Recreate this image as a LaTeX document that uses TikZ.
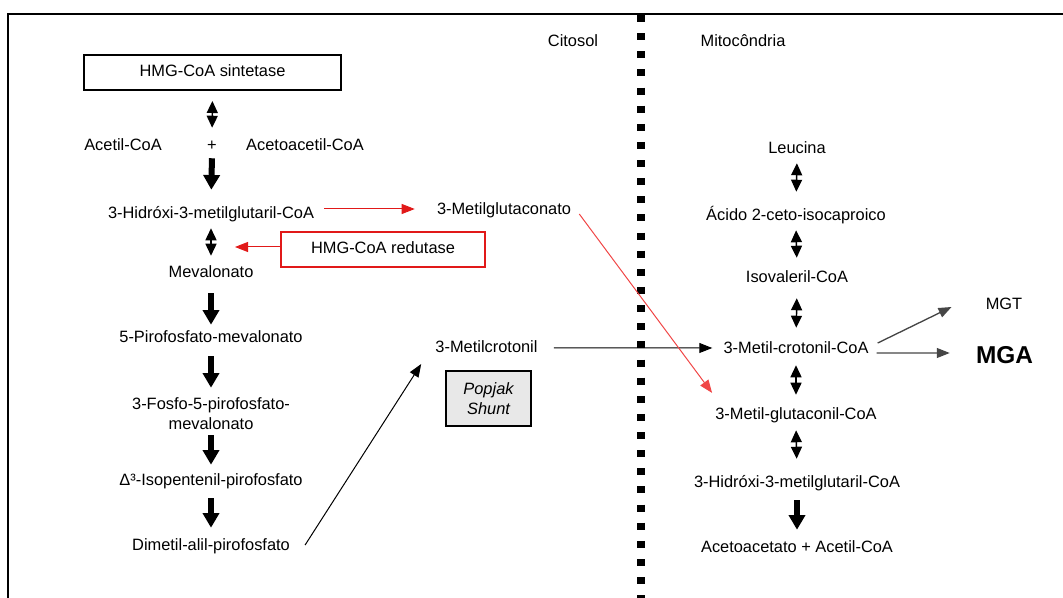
\documentclass[tikz,border=0pt]{standalone}
\usepackage{fontspec}
\setmainfont{Liberation Sans}
\usetikzlibrary{arrows.meta,calc}
\definecolor{mred}{RGB}{225,25,25}
\definecolor{lred}{RGB}{240,70,70}
\definecolor{dgray}{RGB}{70,70,70}
\begin{document}
\begin{tikzpicture}[x=0.75pt,y=-0.75pt,
  every node/.style={font=\fontsize{12.3}{15}\selectfont},
  lbl/.style={inner sep=0pt, text height=8.8pt, text depth=2.6pt},
  box/.style={draw, line width=1.5pt, inner sep=0pt, minimum height=26.25pt, text height=8.8pt, text depth=2.6pt},
  dbl/.style={line width=1.1pt, {Triangle[width=8.25pt,length=9pt]}-{Triangle[width=8.25pt,length=9pt]}},
  thick/.style={line width=4.5pt, -{Triangle[width=12pt,length=11pt]}},
  thin/.style={line width=0.75pt, -{Triangle[width=7.5pt,length=9.75pt]}},
  sh/.style 2 args={shorten <=#1, shorten >=#2},
]
\useasboundingbox (0,0) rectangle (1063,598);
% frame
\draw[line width=1.5pt] (1063,14) -- (7.7,14) -- (7.7,598);
% membrane divider
\draw[line width=6pt, dash pattern=on 5.25pt off 8.35pt] (641,15) -- (641,598);

% compartment labels
\node[lbl] (citosol) at (573,42.8) {Citosol};
\node[lbl] (mito) at (743,42.8) {Mitocôndria};

% left column
\node[box, minimum width=192.75pt] (sint) at (212.5,72.5) {HMG-CoA sintetase};
\node[lbl] (acetil) at (123,146.8) {Acetil-CoA};
\node[lbl] (plus) at (212,146.8) {+};
\node[lbl] (acac) at (305,146.8) {Acetoacetil-CoA};
\node[lbl] (hmgL) at (211,214.8) {3-Hidróxi-3-metilglutaril-CoA};
\node[lbl] (meva) at (211,273.8) {Mevalonato};
\node[lbl] (pirofos) at (211,338.8) {5-Pirofosfato-mevalonato};
\node[lbl, align=center, text height=23.8pt] (fosfo) at (211,415.8) {3-Fosfo-5-pirofosfato-\\mevalonato};
\node[lbl] (ipp) at (211,481.8) {Δ³-Isopentenil-pirofosfato};
\node[lbl] (dmapp) at (211,546.8) {Dimetil-alil-pirofosfato};

\draw[dbl, sh={7.5pt}{8.4pt}] (sint.south) -- (plus.north);
\draw[thick, sh={2.7pt}{12.9pt}] (plus.south) -- (hmgL.north);
\draw[dbl, sh={4.2pt}{7.65pt}] (hmgL.south) -- (meva.north);
\draw[thick, sh={8.7pt}{4.65pt}] (meva.south) -- (pirofos.north);
\draw[thick, sh={7.2pt}{7.65pt}] (pirofos.south) -- (fosfo.north);
\draw[thick, sh={1.2pt}{6.9pt}] (fosfo.south) -- (ipp.north);
\draw[thick, sh={6.45pt}{8.4pt}] (ipp.south) -- (dmapp.north);

% HMG-CoA redutase
\node[box, draw=mred, minimum width=153pt] (red) at (383,249.5) {HMG-CoA redutase};
\coordinate (redtip) at (235,247);
\draw[thin, mred] ($(red.west)+(0,-2.5)$) -- (redtip);

% middle
\node[lbl] (mglutc) at (504,210.8) {3-Metilglutaconato};
\node[lbl] (mcrot) at (486.5,348.8) {3-Metilcrotonil};
\node[draw, line width=1.5pt, fill=gray!18, inner sep=0pt, minimum width=63.75pt, minimum height=41.25pt, align=center, font=\fontsize{12.3}{15}\selectfont\itshape] (popjak) at (488.5,398.5) {Popjak\\Shunt};

\draw[thin, mred] ($(hmgL.east)+(10,-5.8)$) -- ($(mglutc.west)+(-22,-1.8)$);

% right column
\node[lbl] (leu) at (797,149.8) {Leucina};
\node[lbl] (acido) at (796,216.8) {Ácido 2-ceto-isocaproico};
\node[lbl] (isoval) at (797,278.8) {Isovaleril-CoA};
\node[lbl] (mcc) at (796,349.8) {3-Metil-crotonil-CoA};
\node[lbl] (mgc) at (796,415.8) {3-Metil-glutaconil-CoA};
\node[lbl] (hmgR) at (797,483.8) {3-Hidróxi-3-metilglutaril-CoA};
\node[lbl] (aceto) at (797,548.8) {Acetoacetato + Acetil-CoA};
\node[lbl] (mgt) at (1004,305.8) {MGT};
\node[inner sep=0pt, font=\fontsize{18.3}{20}\selectfont\bfseries] (mga) at (1004.5,355) {MGA};

\draw[dbl, sh={4.2pt}{12.9pt}] (leu.south) -- (acido.north);
\draw[dbl, sh={4.2pt}{9.9pt}] (acido.south) -- (isoval.north);
\draw[dbl, sh={8.7pt}{10.65pt}] (isoval.south) -- (mcc.north);
\draw[dbl, sh={5.7pt}{9.9pt}] (mcc.south) -- (mgc.north);
\draw[dbl, sh={4.95pt}{12.9pt}] (mgc.south) -- (hmgR.north);
\draw[thick, sh={6.45pt}{8.4pt}] (hmgR.south) -- (aceto.north);

% cross connectors
\draw[thin] ($(dmapp.east)+(15,-1.8)$) -- ($(mcrot.west)+(-14,15.2)$);
\draw[thin] ($(mcrot.east)+(16,-1)$) -- ($(mcc.west)+(-11,-1.8)$);
\draw[thin, lred] ($(mglutc.east)+(8,3.2)$) -- ($(mgc.north west)+(-3,-15)$);
\draw[thin, dgray, line width=1pt] ($(mcc.east)+(9,-6.8)$) -- ($(mgt.west)+(-34,1.2)$);
\draw[thin, dgray, line width=1pt] ($(mcc.east)+(8,3.2)$) -- ($(mga.west)+(-26,-2)$);
\end{tikzpicture}
\end{document}
